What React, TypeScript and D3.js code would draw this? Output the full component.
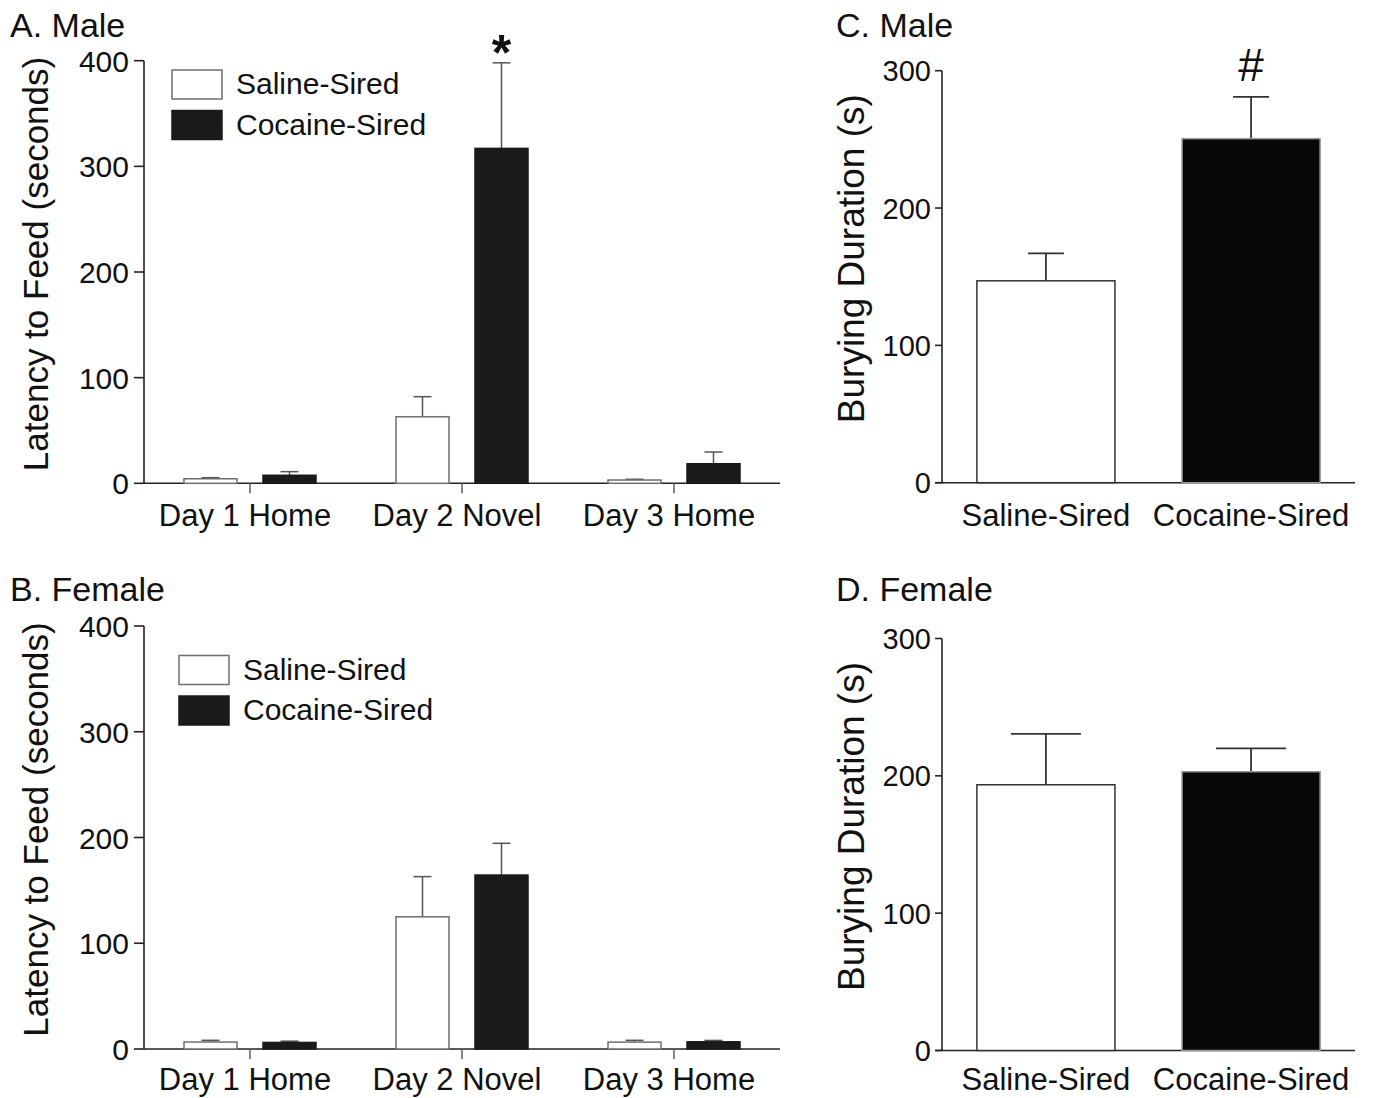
import React from 'react';
import * as d3 from 'd3';

// ---------- data ----------
const dayCategories = ['Day 1 Home', 'Day 2 Novel', 'Day 3 Home'];
const groups = ['Saline-Sired', 'Cocaine-Sired'];
const latencyTicks = [0, 100, 200, 300, 400];
const buryingTicks = [0, 100, 200, 300];

// A. Male latency (mean, SEM)
const maleLatencySaline = [4.3, 63, 3.1];
const maleLatencySalineSem = [1.0, 19, 0.7];
const maleLatencyCocaine = [7.6, 317, 18.5];
const maleLatencyCocaineSem = [3.4, 81, 11.1];

// B. Female latency (mean, SEM)
const femaleLatencySaline = [6.6, 125, 6.5];
const femaleLatencySalineSem = [1.6, 38, 1.7];
const femaleLatencyCocaine = [6.2, 164.5, 6.8];
const femaleLatencyCocaineSem = [1.2, 30, 1.3];

// C. Male burying (Saline, Cocaine)
const maleBurying = [147, 250.5];
const maleBuryingSem = [20, 30.5];

// D. Female burying
const femaleBurying = [193.5, 203];
const femaleBuryingSem = [37, 17];

const FONT = 'Liberation Sans, Arial, Helvetica, sans-serif';
const SALINE_FILL = '#ffffff';
const SALINE_STROKE = '#6e6e6e';
const COC_FILL_AB = '#1a1a1a';
const COC_FILL_CD = '#080808';
const AXIS = '#222222';

type LatProps = {
  title: string;
  titleY: number;
  top: number; // y of 400
  bottom: number; // y of 0
  saline: number[];
  salineSem: number[];
  cocaine: number[];
  cocaineSem: number[];
  legendX: number;
  legendY: number;
  labelGap: number;
  star?: string;
};

function LatencyPanel(p: LatProps) {
  const x = d3.scaleBand<string>().domain(dayCategories).range([144, 780]).padding(0);
  const inner = d3.scaleBand<string>().domain(groups).range([40, 172]).paddingInner(0.329).paddingOuter(0);
  const y = d3.scaleLinear().domain([0, 400]).range([p.bottom, p.top]);
  const axisX = 144;
  const series = [
    { key: groups[0], vals: p.saline, sem: p.salineSem, fill: SALINE_FILL, stroke: SALINE_STROKE },
    { key: groups[1], vals: p.cocaine, sem: p.cocaineSem, fill: COC_FILL_AB, stroke: COC_FILL_AB },
  ];
  const capHalf = 9;
  const labelMid = (p.top + p.bottom) / 2 - 8;
  return (
    <g>
      <text x={10} y={p.titleY} fontSize={34} fontFamily={FONT} fill="#111">{p.title}</text>
      <text
        transform={`translate(48, ${labelMid}) rotate(-90)`}
        textAnchor="middle"
        fontSize={35}
        fontFamily={FONT}
        fill="#111"
      >
        Latency to Feed (seconds)
      </text>
      {/* y axis */}
      <line x1={axisX} x2={axisX} y1={y(400)} y2={y(0)} stroke={AXIS} strokeWidth={1.6} />
      {latencyTicks.map((t) => (
        <g key={t}>
          <line x1={axisX - 10} x2={axisX} y1={y(t)} y2={y(t)} stroke={AXIS} strokeWidth={1.6} />
          <text x={axisX - 15} y={y(t) + 11} textAnchor="end" fontSize={30} fontFamily={FONT} fill="#111">
            {t}
          </text>
        </g>
      ))}
      {/* x axis */}
      <line x1={axisX} x2={780} y1={y(0)} y2={y(0)} stroke={AXIS} strokeWidth={1.6} />
      {dayCategories.map((c) => {
        const cx = (x(c) as number) + x.bandwidth() / 2;
        return (
          <g key={c}>
            <line x1={cx} x2={cx} y1={y(0)} y2={y(0) + 10} stroke="#666" strokeWidth={1.6} />
            <text x={cx - 5} y={y(0) + p.labelGap} textAnchor="middle" fontSize={31} fontFamily={FONT} fill="#111">
              {c}
            </text>
          </g>
        );
      })}
      {/* bars */}
      {series.map((s) =>
        dayCategories.map((c, i) => {
          const bx = (x(c) as number) + (inner(s.key) as number);
          const bw = inner.bandwidth();
          const cx = bx + bw / 2;
          const topY = y(s.vals[i]);
          const errY = y(s.vals[i] + s.sem[i]);
          return (
            <g key={s.key + c}>
              <line x1={cx} x2={cx} y1={topY} y2={errY} stroke="#555" strokeWidth={1.5} />
              <line x1={cx - capHalf} x2={cx + capHalf} y1={errY} y2={errY} stroke="#555" strokeWidth={1.5} />
              <rect
                x={bx}
                y={topY}
                width={bw}
                height={y(0) - topY}
                fill={s.fill}
                stroke={s.stroke}
                strokeWidth={1.5}
              />
            </g>
          );
        })
      )}
      {p.star && (
        <text
          x={(x(dayCategories[1]) as number) + (inner(groups[1]) as number) + inner.bandwidth() / 2}
          y={70}
          textAnchor="middle"
          fontSize={50}
          fontWeight="bold"
          fontFamily={FONT}
          fill="#111"
        >
          {p.star}
        </text>
      )}
      {/* legend */}
      {series.map((s, i) => (
        <g key={'lg' + s.key}>
          <rect
            x={p.legendX}
            y={p.legendY + i * 40.5}
            width={50}
            height={29}
            fill={s.fill}
            stroke={s.stroke}
            strokeWidth={1.5}
          />
          <text x={p.legendX + 64} y={p.legendY + i * 40.5 + 24} fontSize={30} fontFamily={FONT} fill="#111">
            {s.key}
          </text>
        </g>
      ))}
    </g>
  );
}

type BurProps = {
  title: string;
  titleY: number;
  top: number; // y of 300
  bottom: number; // y of 0
  vals: number[];
  sem: number[];
  capW: number;
  labelGap: number;
  mark?: string;
};

function BuryingPanel(p: BurProps) {
  const x = d3.scaleBand<string>().domain(groups).range([942, 1355]).paddingInner(0.327).paddingOuter(0.17);
  const y = d3.scaleLinear().domain([0, 300]).range([p.bottom, p.top]);
  const axisX = 942;
  const fills = [SALINE_FILL, COC_FILL_CD];
  const strokes = ['#333', '#999'];
  return (
    <g>
      <text x={836} y={p.titleY} fontSize={34} fontFamily={FONT} fill="#111">{p.title}</text>
      <text
        transform={`translate(864, ${(p.top + p.bottom) / 2 - 18}) rotate(-90)`}
        textAnchor="middle"
        fontSize={37}
        fontFamily={FONT}
        fill="#111"
      >
        Burying Duration (s)
      </text>
      <line x1={axisX} x2={axisX} y1={y(300)} y2={y(0)} stroke={AXIS} strokeWidth={1.6} />
      {buryingTicks.map((t) => (
        <g key={t}>
          <line x1={axisX - 7} x2={axisX} y1={y(t)} y2={y(t)} stroke={AXIS} strokeWidth={1.6} />
          <text x={axisX - 11} y={y(t) + 10.5} textAnchor="end" fontSize={29} fontFamily={FONT} fill="#111">
            {t}
          </text>
        </g>
      ))}
      <line x1={axisX - 7} x2={1355} y1={y(0)} y2={y(0)} stroke={AXIS} strokeWidth={1.6} />
      {groups.map((g, i) => {
        const bx = x(g) as number;
        const bw = x.bandwidth();
        const cx = bx + bw / 2;
        const topY = y(p.vals[i]);
        const errY = y(p.vals[i] + p.sem[i]);
        return (
          <g key={g}>
            <line x1={cx} x2={cx} y1={topY} y2={errY} stroke="#333" strokeWidth={1.8} />
            <line x1={cx - p.capW / 2} x2={cx + p.capW / 2} y1={errY} y2={errY} stroke="#333" strokeWidth={1.8} />
            <rect x={bx} y={topY} width={bw} height={y(0) - topY} fill={fills[i]} stroke={strokes[i]} strokeWidth={1.5} />
            <text x={cx} y={y(0) + p.labelGap} textAnchor="middle" fontSize={31} fontFamily={FONT} fill="#111">
              {g}
            </text>
          </g>
        );
      })}
      {p.mark && (
        <text
          x={(x(groups[1]) as number) + x.bandwidth() / 2}
          y={81}
          textAnchor="middle"
          fontSize={46}
          fontFamily={FONT}
          fill="#111"
        >
          {p.mark}
        </text>
      )}
    </g>
  );
}

export default function App() {
  return (
    <svg
      width={1373}
      height={1098}
      viewBox="0 0 1373 1098"
      style={{ position: 'absolute', left: 0, top: 0, background: '#fff' }}
    >
      <rect x={0} y={0} width={1373} height={1098} fill="#fff" />
      <LatencyPanel
        title="A. Male"
        titleY={37}
        top={60.7}
        bottom={483.3}
        saline={maleLatencySaline}
        salineSem={maleLatencySalineSem}
        cocaine={maleLatencyCocaine}
        cocaineSem={maleLatencyCocaineSem}
        legendX={172}
        legendY={70}
        labelGap={43}
        star="*"
      />
      <LatencyPanel
        title="B. Female"
        titleY={601}
        top={626}
        bottom={1049}
        saline={femaleLatencySaline}
        salineSem={femaleLatencySalineSem}
        cocaine={femaleLatencyCocaine}
        cocaineSem={femaleLatencyCocaineSem}
        legendX={179}
        legendY={655.5}
        labelGap={41}
      />
      <BuryingPanel title="C. Male" titleY={37} top={70.7} bottom={482.7} vals={maleBurying} sem={maleBuryingSem} capW={36} labelGap={43} mark="#" />
      <BuryingPanel title="D. Female" titleY={601} top={638.5} bottom={1050.5} vals={femaleBurying} sem={femaleBuryingSem} capW={70} labelGap={39.5} />
    </svg>
  );
}
